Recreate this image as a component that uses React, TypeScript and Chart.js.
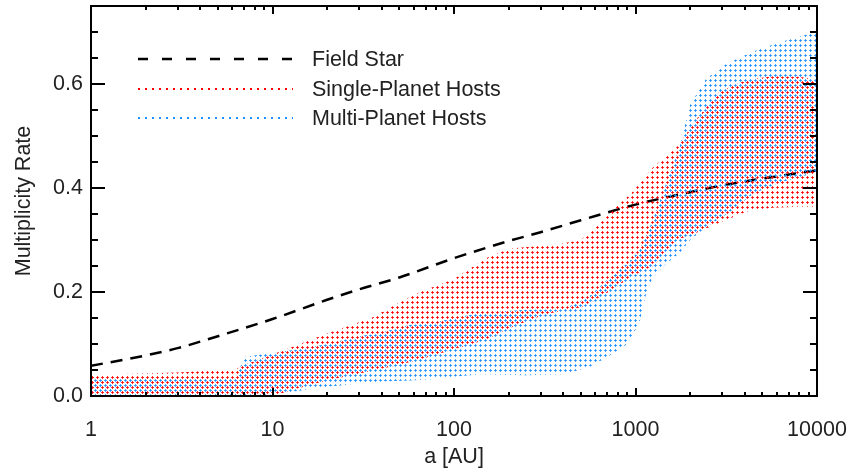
import React, { useEffect, useRef } from 'react';
import { Chart, registerables } from 'chart.js';

Chart.register(...registerables);

// ---- data ----
const xTickValues = [1, 10, 100, 1000, 10000];
const yTickValues = [0, 0.2, 0.4, 0.6];

const fieldA = [1, 2, 3, 5, 10, 20, 30, 50, 100, 200, 300, 500, 1000, 2000, 3000, 5000, 10000];
const fieldRate = [0.058, 0.078, 0.092, 0.115, 0.148, 0.185, 0.205, 0.228, 0.265, 0.298, 0.315, 0.338, 0.368, 0.392, 0.405, 0.418, 0.434];

const singleA = [1, 3, 6.3, 7, 10, 13, 20, 35, 50, 65, 100, 150, 200, 280, 350, 500, 600, 750, 950, 1250, 1700, 2200, 2900, 4100, 5700, 8000, 10000];
const singleUpper = [0.041, 0.045, 0.052, 0.06, 0.08, 0.095, 0.12, 0.15, 0.18, 0.2, 0.225, 0.265, 0.283, 0.288, 0.29, 0.3, 0.325, 0.358, 0.39, 0.44, 0.48, 0.535, 0.585, 0.608, 0.615, 0.614, 0.608];
const singleLower = [0, 0, 0, 0, 0, 0.012, 0.03, 0.048, 0.06, 0.07, 0.09, 0.108, 0.13, 0.15, 0.16, 0.17, 0.185, 0.205, 0.23, 0.25, 0.3, 0.315, 0.333, 0.355, 0.362, 0.364, 0.364];

const multiA = [1, 3, 6.3, 7, 10, 14, 20, 30, 40, 57, 75, 100, 140, 250, 400, 550, 700, 900, 1050, 1150, 1250, 1480, 1750, 2000, 2450, 3200, 4500, 6200, 8800, 10000];
const multiUpper = [0.032, 0.034, 0.036, 0.075, 0.083, 0.09, 0.1, 0.115, 0.122, 0.137, 0.14, 0.15, 0.16, 0.166, 0.167, 0.19, 0.224, 0.255, 0.28, 0.31, 0.34, 0.41, 0.48, 0.56, 0.61, 0.64, 0.663, 0.68, 0.695, 0.7];
const multiLower = [0, 0, 0, 0, 0.003, 0.01, 0.018, 0.024, 0.028, 0.03, 0.032, 0.037, 0.042, 0.04, 0.042, 0.055, 0.075, 0.1, 0.14, 0.2, 0.23, 0.255, 0.275, 0.3, 0.325, 0.35, 0.39, 0.41, 0.425, 0.43];

const legendLabels = ['Field Star', 'Single-Planet Hosts', 'Multi-Planet Hosts'];

const RED = [255, 0, 0];
const BLUE = [30, 144, 255];
const rgb = (c: number[], a = 1) => `rgba(${c[0]},${c[1]},${c[2]},${a})`;
const TEXT = '#222';
const FONT_FAMILY = '"Liberation Sans", Arial, Helvetica, sans-serif';
const FONT_SIZE = 21.5;

function pts(xs: number[], ys: number[]) {
  return xs.map((x, i) => ({ x, y: ys[i] }));
}

function dotPattern(ctx: CanvasRenderingContext2D, color: number[], cx: number, cy: number, size: number) {
  const c = document.createElement('canvas');
  c.width = size;
  c.height = size;
  const g = c.getContext('2d')!;
  const offs = [[0, 0, 1], [-1, 0, 0.8], [1, 0, 0.8], [0, -1, 0.8], [0, 1, 0.8]];
  for (const [dx, dy, al] of offs) {
    g.fillStyle = rgb(color, al);
    g.fillRect((((cx + dx) % size) + size) % size, (((cy + dy) % size) + size) % size, 1, 1);
  }
  return ctx.createPattern(c, 'repeat')!;
}

const zeroPad = (s: any) => {
  s.paddingLeft = 0;
  s.paddingRight = 0;
  s.paddingTop = 0;
  s.paddingBottom = 0;
};

const framePlugin = {
  id: 'frame',
  afterDraw(chart: any) {
    const { ctx, chartArea: a } = chart;
    const x = chart.scales.x;
    const y = chart.scales.y;
    ctx.save();
    ctx.strokeStyle = '#000';
    ctx.lineWidth = 2;
    ctx.beginPath();
    for (let d = 0; d <= 4; d++) {
      for (let m = 1; m <= 9; m++) {
        const v = m * Math.pow(10, d);
        if (v > 10000) break;
        const px = Math.round(x.getPixelForValue(v));
        const len = m === 1 ? 8 : 4;
        ctx.moveTo(px, a.bottom);
        ctx.lineTo(px, a.bottom - len);
        ctx.moveTo(px, a.top);
        ctx.lineTo(px, a.top + len);
      }
    }
    for (let k = 0; k <= 15; k++) {
      const v = k * 0.05;
      const py = Math.round(y.getPixelForValue(v));
      const len = k % 4 === 0 ? 14 : 7;
      ctx.moveTo(a.left, py);
      ctx.lineTo(a.left + len, py);
      ctx.moveTo(a.right, py);
      ctx.lineTo(a.right - len, py);
    }
    ctx.stroke();
    ctx.strokeRect(a.left, a.top, a.right - a.left, a.bottom - a.top);

    // legend
    const lx0 = 138;
    const lx1 = 293;
    const rows = [59, 89, 118];
    ctx.lineWidth = 2.5;
    ctx.strokeStyle = '#000';
    ctx.setLineDash([10, 14]);
    ctx.beginPath();
    ctx.moveTo(lx0, rows[0]);
    ctx.lineTo(lx1, rows[0]);
    ctx.stroke();
    ctx.lineWidth = 2;
    ctx.setLineDash([2, 5]);
    ctx.strokeStyle = rgb(RED);
    ctx.beginPath();
    ctx.moveTo(lx0, rows[1]);
    ctx.lineTo(lx1, rows[1]);
    ctx.stroke();
    ctx.strokeStyle = rgb(BLUE);
    ctx.beginPath();
    ctx.moveTo(lx0, rows[2]);
    ctx.lineTo(lx1, rows[2]);
    ctx.stroke();
    ctx.setLineDash([]);
    ctx.fillStyle = TEXT;
    ctx.font = `${FONT_SIZE}px ${FONT_FAMILY}`;
    ctx.textAlign = 'left';
    ctx.textBaseline = 'middle';
    legendLabels.forEach((t, i) => ctx.fillText(t, 312, rows[i] + 1));
    ctx.restore();
  },
};

export default function App() {
  const ref = useRef<HTMLCanvasElement>(null);

  useEffect(() => {
    const canvas = ref.current!;
    const ctx = canvas.getContext('2d')!;
    const redPat = dotPattern(ctx, RED, 2, 2, 5);
    const bluePat = dotPattern(ctx, BLUE, 0, 0, 5);
    const font = { family: FONT_FAMILY, size: FONT_SIZE };

    const chart = new Chart(canvas, {
      type: 'line',
      data: {
        datasets: [
          {
            label: 'single-lower',
            data: pts(singleA, singleLower),
            borderWidth: 0,
            borderColor: 'transparent',
            pointRadius: 0,
            fill: false,
            tension: 0,
          },
          {
            label: 'Single-Planet Hosts',
            data: pts(singleA, singleUpper),
            borderWidth: 0,
            borderColor: 'transparent',
            backgroundColor: redPat,
            pointRadius: 0,
            fill: '-1',
            tension: 0,
          },
          {
            label: 'multi-lower',
            data: pts(multiA, multiLower),
            borderWidth: 0,
            borderColor: 'transparent',
            pointRadius: 0,
            fill: false,
            tension: 0,
          },
          {
            label: 'Multi-Planet Hosts',
            data: pts(multiA, multiUpper),
            borderWidth: 0,
            borderColor: 'transparent',
            backgroundColor: bluePat,
            pointRadius: 0,
            fill: '-1',
            tension: 0,
          },
          {
            label: 'Field Star',
            data: pts(fieldA, fieldRate),
            borderColor: '#000',
            borderWidth: 2.5,
            borderDash: [12, 8],
            pointRadius: 0,
            fill: false,
            cubicInterpolationMode: 'monotone',
          },
        ],
      } as any,
      options: {
        responsive: false,
        devicePixelRatio: 1,
        animation: false,
        layout: { padding: { left: 0, right: 32, top: 6, bottom: 0 } },
        plugins: { legend: { display: false }, tooltip: { enabled: false } },
        scales: {
          x: {
            type: 'logarithmic',
            min: 1,
            max: 10000,
            position: 'bottom',
            grid: { display: false, drawTicks: false },
            border: { display: false },
            ticks: {
              font,
              color: TEXT,
              padding: 21,
              maxRotation: 0,
              autoSkip: false,
              callback: (v: any) => String(v),
            },
            afterBuildTicks: (s: any) => {
              s.ticks = xTickValues.map((v) => ({ value: v }));
            },
            afterFit: (s: any) => {
              s.height = 78;
              zeroPad(s);
            },
            title: { display: true, text: 'a [AU]', font, color: TEXT, padding: { top: 0, bottom: 4 } },
          },
          y: {
            type: 'linear',
            min: 0,
            max: 0.75,
            grid: { display: false, drawTicks: false },
            border: { display: false },
            ticks: {
              font,
              color: TEXT,
              padding: 8,
              callback: (v: any) => Number(v).toFixed(1),
            },
            afterBuildTicks: (s: any) => {
              s.ticks = yTickValues.map((v) => ({ value: v }));
            },
            afterFit: (s: any) => {
              s.width = 91;
              zeroPad(s);
            },
            title: { display: true, text: 'Multiplicity Rate', font, color: TEXT, padding: { top: 11, bottom: 0 } },
          },
        },
      } as any,
      plugins: [framePlugin],
    });
    return () => chart.destroy();
  }, []);

  return (
    <div style={{ position: 'absolute', left: 0, top: 0, width: 849, height: 474, background: '#fff' }}>
      <canvas ref={ref} width={849} height={474} style={{ display: 'block' }} />
    </div>
  );
}
